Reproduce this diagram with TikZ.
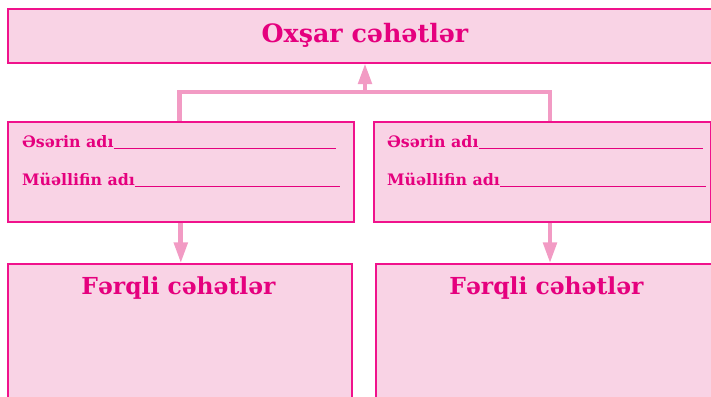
\documentclass[tikz,border=0pt]{standalone}
\usepackage{fontspec}
\setmainfont{DejaVu Serif}
\usetikzlibrary{arrows.meta}
\definecolor{boxfill}{HTML}{F9D3E5}
\definecolor{boxline}{HTML}{F0128C}
\definecolor{txt}{HTML}{E5007E}
\definecolor{arr}{HTML}{F29BC4}
\tikzset{
  box/.style={draw=boxline, fill=boxfill, line width=1.6pt, rectangle, inner sep=0pt, anchor=north west},
  conn/.style={draw=arr, line width=4.8pt},
  arrow/.style={conn, -{Triangle[length=21pt,width=13pt]}, shorten >=-0.5pt},
  bigtitle/.style={text=txt, font=\fontsize{25.3}{28}\selectfont\bfseries, anchor=base, inner sep=0pt},
  subtitle/.style={text=txt, font=\fontsize{23.4}{26}\selectfont\bfseries, anchor=base, inner sep=0pt},
  field/.style={text=txt, font=\fontsize{15.8}{18}\selectfont\bfseries, anchor=base west, inner sep=0pt},
}
\begin{document}
\begin{tikzpicture}[x=1pt,y=1pt]
\useasboundingbox (0,0) rectangle (711,396);
\clip (0,0) rectangle (711,396);
% boxes (y = 396 - pixel y)
\node[box, minimum width=708, minimum height=54] (top) at (7,388) {};
\node[box, minimum width=346, minimum height=100] (lm) at (7,275) {};
\node[box, minimum width=337, minimum height=100] (rm) at (373,275) {};
\node[box, minimum width=344, minimum height=140] (lb) at (7,133) {};
\node[box, minimum width=340, minimum height=140] (rb) at (375,133) {};
% texts
\node[bigtitle] (t1) at (365,353) {Oxşar cəhətlər};
\node[subtitle] (t2) at (178.5,101) {Fərqli cəhətlər};
\node[subtitle] (t3) at (546.5,101) {Fərqli cəhətlər};
\node[field] (a1) at (22,248) {Əsərin adı\rule[-1pt]{222pt}{0.8pt}};
\node[field] (a2) at (22,210) {Müəllifin adı\rule[-1pt]{205pt}{0.8pt}};
\node[field] (b1) at (387,248) {Əsərin adı\rule[-1pt]{224pt}{0.8pt}};
\node[field] (b2) at (387,210) {Müəllifin adı\rule[-1pt]{206pt}{0.8pt}};
% connectors
\coordinate (j) at (365,304);
\coordinate (rj) at ([xshift=177]rm.north west);
\draw[conn] ([xshift=-1]lm.north) |- (j) -| (rj);
\draw[arrow] (j) -- (j |- top.south);
\draw[arrow] (lm.south) -- (lm.south |- lb.north);
\coordinate (rs) at ([xshift=177]rm.south west);
\draw[arrow] (rs) -- (rs |- rb.north);
\end{tikzpicture}
\end{document}
